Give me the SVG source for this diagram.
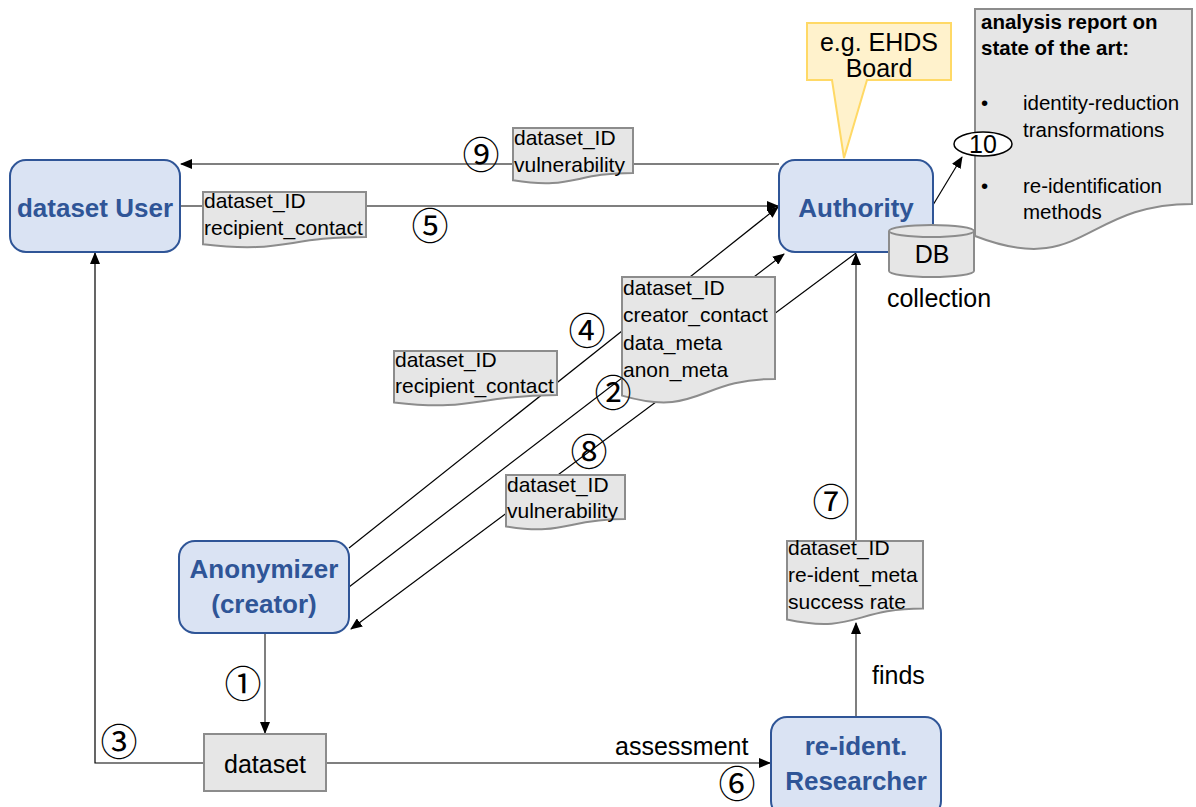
<svg xmlns="http://www.w3.org/2000/svg" width="1196" height="807" viewBox="0 0 1196 807">
<defs>
<marker id="ah" markerWidth="12" markerHeight="10" refX="11" refY="5" orient="auto" markerUnits="userSpaceOnUse">
<path d="M0,0 L12,5 L0,10 Z" fill="#000"/>
</marker>
<style>
.node{fill:#dae3f3;stroke:#2f5597;stroke-width:2}
.ntxt{font-family:"Liberation Sans",Arial,sans-serif;font-weight:bold;font-size:26px;fill:#2f5597;text-anchor:middle}
.doc{fill:#e6e6e6;stroke:#8c8c8c;stroke-width:2}
.dtxt{font-family:"Liberation Sans",Arial,sans-serif;font-size:21px;fill:#000}
.lbl{font-family:"Liberation Sans",Arial,sans-serif;font-size:25px;fill:#000}
.num{font-family:"Noto Sans CJK JP","DejaVu Sans",sans-serif;font-size:37px;fill:#000;text-anchor:middle}
.ln{fill:none;stroke:#000;stroke-width:1.2}
.lg{fill:none;stroke:#7f7f7f;stroke-width:2}
.rtxt{font-family:"Liberation Sans",Arial,sans-serif;font-size:20.5px;fill:#000}
</style>
</defs>
<rect width="1196" height="807" fill="#fff"/>

<g id="connectors">
<path class="ln" d="M779,164 H181" marker-end="url(#ah)"/>
<path class="ln" d="M180,206 H778" marker-end="url(#ah)"/>
<path class="ln" d="M349,548 L778,207" marker-end="url(#ah)"/>
<path class="ln" d="M349,587 L784,254" marker-end="url(#ah)"/>
<path class="ln" d="M856,253 L351,629" marker-end="url(#ah)"/>
<path class="lg" d="M856,541 V254" marker-end="url(#ah)"/>
<path class="lg" d="M856,717 V623" marker-end="url(#ah)"/>
<path class="lg" d="M265,633 V733" marker-end="url(#ah)"/>
<path class="ln" d="M204,763 H95 V253" marker-end="url(#ah)"/>
<path class="ln" d="M326,763 H770" marker-end="url(#ah)"/>
<path class="ln" d="M933,205 L962,157" marker-end="url(#ah)"/>
</g>

<g id="doc-vuln-top">
<path class="doc" d="M513,128 H633 V172.9 C573,172.9 573,190 513,180.3 Z"/>
<text class="dtxt" x="514" y="145">dataset_ID</text>
<text class="dtxt" x="514" y="172">vulnerability</text>
</g>
<g id="doc-recipient-top">
<path class="doc" d="M203,192 H366 V236.9 C284.5,236.9 284.5,254 203,244.3 Z"/>
<text class="dtxt" x="204" y="208">dataset_ID</text>
<text class="dtxt" x="204" y="235">recipient_contact</text>
</g>
<g id="doc-recipient-mid">
<path class="doc" d="M394,351 H557 V395.1 C475.5,395.1 475.5,411.9 394,402.4 Z"/>
<text class="dtxt" x="395" y="367">dataset_ID</text>
<text class="dtxt" x="395" y="393">recipient_contact</text>
</g>
<g id="doc-creator">
<path class="doc" d="M622,277 H775 V378.9 C698.5,378.9 698.5,417.7 622,395.6 Z"/>
<text class="dtxt" x="623" y="295">dataset_ID</text>
<text class="dtxt" x="623" y="322">creator_contact</text>
<text class="dtxt" x="623" y="350">data_meta</text>
<text class="dtxt" x="623" y="377">anon_meta</text>
</g>
<g id="doc-vuln-mid">
<path class="doc" d="M506,475 H625 V519.1 C565.5,519.1 565.5,535.9 506,526.4 Z"/>
<text class="dtxt" x="507" y="492">dataset_ID</text>
<text class="dtxt" x="507" y="518">vulnerability</text>
</g>
<g id="doc-reident">
<path class="doc" d="M787,541 H923 V608.4 C855,608.4 855,634 787,619.5 Z"/>
<text class="dtxt" x="788" y="555">dataset_ID</text>
<text class="dtxt" x="788" y="582">re-ident_meta</text>
<text class="dtxt" x="788" y="609">success rate</text>
</g>
<g id="doc-report">
<path class="doc" d="M975,9 H1192 V203.9 C1083.5,203.9 1083.5,278.1 975,236 Z"/>
<text class="rtxt" x="981" y="29" font-weight="bold" font-size="19">analysis report on</text>
<text class="rtxt" x="981" y="55" font-weight="bold" font-size="19">state of the art:</text>
<text class="rtxt" x="981" y="110">•</text>
<text class="rtxt" x="1023" y="110">identity-reduction</text>
<text class="rtxt" x="1023" y="137">transformations</text>
<text class="rtxt" x="981" y="193">•</text>
<text class="rtxt" x="1023" y="193">re-identification</text>
<text class="rtxt" x="1023" y="219">methods</text>
</g>

<g id="callout-ehds">
<path d="M807,23 H951 V80 H867 L844,158 L832,80 H807 Z" fill="#fff2cc" stroke="#ffd966" stroke-width="2"/>
<text class="lbl" x="879" y="51" text-anchor="middle" font-size="22">e.g. EHDS</text>
<text class="lbl" x="879" y="77" text-anchor="middle" font-size="22">Board</text>
</g>

<g id="node-user">
<rect class="node" x="10" y="160" width="170" height="92" rx="16"/>
<text class="ntxt" x="95" y="217">dataset User</text>
</g>
<g id="node-authority">
<rect class="node" x="779" y="160" width="154" height="92" rx="16"/>
<text class="ntxt" x="856" y="217">Authority</text>
</g>
<g id="node-db">
<path d="M889,231 A42.5,6 0 0 1 974,231 V271 A42.5,6 0 0 1 889,271 Z" fill="#e6e6e6" stroke="#8c8c8c" stroke-width="2"/>
<path d="M889,231 A42.5,6 0 0 0 974,231" fill="none" stroke="#8c8c8c" stroke-width="2"/>
<text class="lbl" x="932" y="263" text-anchor="middle" font-size="22">DB</text>
<text class="lbl" x="939" y="307" text-anchor="middle" font-size="26">collection</text>
</g>
<g id="node-anonymizer">
<rect class="node" x="179" y="541" width="170" height="92" rx="16"/>
<text class="ntxt" x="264" y="578">Anonymizer</text>
<text class="ntxt" x="264" y="613">(creator)</text>
</g>
<g id="node-dataset">
<rect x="204" y="734" width="122" height="57" fill="#e6e6e6" stroke="#8c8c8c" stroke-width="2"/>
<text class="lbl" x="265" y="773" text-anchor="middle">dataset</text>
</g>
<g id="node-researcher">
<rect class="node" x="771" y="717" width="170" height="100" rx="16"/>
<text class="ntxt" x="856" y="755" font-size="25">re-ident.</text>
<text class="ntxt" x="856" y="790" font-size="25">Researcher</text>
</g>

<g id="labels">
<text class="lbl" x="615" y="755">assessment</text>
<text class="lbl" x="872" y="684">finds</text>
<ellipse cx="983" cy="144" rx="29" ry="12" fill="#fff" stroke="#000" stroke-width="1.5"/>
<text class="lbl" x="983" y="153" text-anchor="middle" font-size="24">10</text>
<text class="num" x="243" y="698">①</text>
<text class="num" x="613" y="407">②</text>
<text class="num" x="119" y="756">③</text>
<text class="num" x="587" y="345">④</text>
<text class="num" x="430" y="240">⑤</text>
<text class="num" x="737" y="798">⑥</text>
<text class="num" x="831" y="516">⑦</text>
<text class="num" x="589" y="466">⑧</text>
<text class="num" x="481" y="169">⑨</text>
</g>
</svg>
